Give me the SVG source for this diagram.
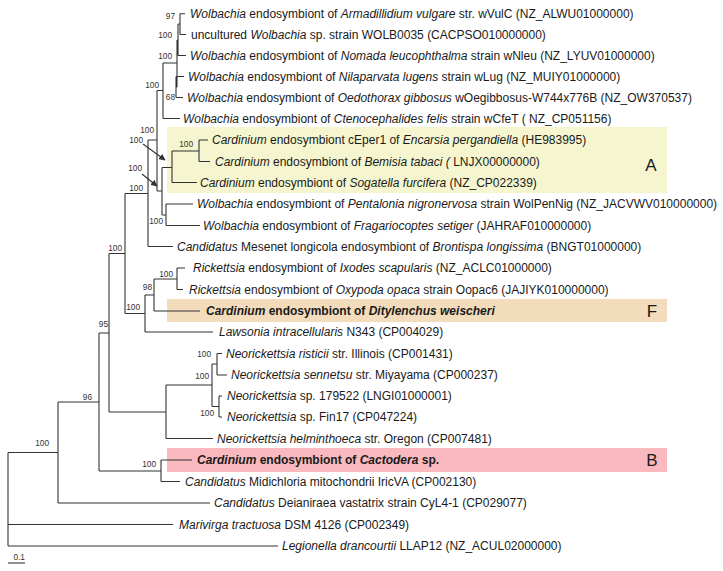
<svg xmlns="http://www.w3.org/2000/svg" width="723" height="571" viewBox="0 0 723 571">
<defs>
<style>
.t{font-family:"Liberation Sans",Arial,sans-serif;font-size:12px;fill:#1a1a1a}
.i{font-style:italic}
.b{font-weight:bold}
.bs{font-family:"Liberation Sans",Arial,sans-serif;font-size:8.3px;fill:#333;text-anchor:end}
.lt{font-family:"Liberation Sans",Arial,sans-serif;font-size:17px;fill:#1a1a1a;text-anchor:middle}
.br{fill:none;stroke:#333;stroke-width:1.1}
</style>
<marker id="ah" viewBox="0 0 10 10" refX="9" refY="5" markerWidth="6" markerHeight="6" orient="auto">
<path d="M0,0 L10,5 L0,10 z" fill="#333"/>
</marker>
</defs>
<rect width="723" height="571" fill="#fff"/>
<g id="clades">
<rect id="cladeA" x="167" y="127" width="500" height="66" fill="#f5f6cf"/>
<rect id="cladeF" x="167" y="299" width="500" height="23" fill="#f2dcbb"/>
<rect id="cladeB" x="167" y="448" width="500" height="24" fill="#f9b9be"/>
<text class="lt" x="651" y="171">A</text>
<text class="lt" x="652" y="317">F</text>
<text class="lt" x="652" y="466">B</text>
</g>
<g id="connectors">
<path class="br" d="M180,13.7V34.5 M180,13.7H185 M180,34.5H186 M178,24V55.5 M178,24H180 M178,55.5H186 M176,76.5V97.5 M176,76.5H184 M176,97.5H183 M177,40V87 M177,40H178 M176,87H177 M163,63V118.5 M163,63H177 M163,118.5H180 M157,90.5V191 M157,90.5H163 M162,167.5V215 M157,191H162 M172,151V182.5 M162,167.5H172 M172,182.5H197 M199,140V161.5 M172,151H199 M199,140H208 M199,161.5H210 M166,204V225.5 M162,215H166 M166,204H193 M166,225.5H200 M148,140V246.5 M148,140H157 M148,246.5H173 M125,193.5V313.5 M125,193.5H148 M177,268V289.5 M177,268H185 M177,289.5H183 M154,279V311 M154,279H177 M154,311H200 M145,295V332 M145,295H154 M145,332H213 M125,313.5H145 M109,253.5V412 M109,253.5H125 M217,353.5V375 M217,353.5H222 M217,375H227 M219,396V417 M219,396H222 M219,417H222 M212,364V406.5 M212,364H217 M212,406.5H219 M166,385V438.5 M166,385H212 M166,438.5H213 M109,412H166 M99,333V471 M99,333H109 M161,460V481.5 M161,460H192 M161,481.5H180 M99,471H161 M58,402V503 M58,402H99 M58,503H210 M8,452.5V546 M8,452.5H58 M8,524.5H173 M8,546H278"/>
<path class="br" d="M143,144L165,160" marker-end="url(#ah)"/>
<path class="br" d="M142,174L157,186" marker-end="url(#ah)"/>
<path class="br" d="M8,563H25"/>
</g>
<g id="support">
<text class="bs" x="175" y="19">97</text>
<text class="bs" x="172" y="38">100</text>
<text class="bs" x="172" y="59">100</text>
<text class="bs" x="175" y="100">68</text>
<text class="bs" x="159" y="88">100</text>
<text class="bs" x="154" y="133">100</text>
<text class="bs" x="143" y="143">100</text>
<text class="bs" x="193" y="147">100</text>
<text class="bs" x="142" y="171">100</text>
<text class="bs" x="143" y="191">100</text>
<text class="bs" x="163" y="224">100</text>
<text class="bs" x="122" y="251">100</text>
<text class="bs" x="173" y="277">100</text>
<text class="bs" x="152" y="290">98</text>
<text class="bs" x="140" y="310">100</text>
<text class="bs" x="108" y="327">95</text>
<text class="bs" x="211" y="357">100</text>
<text class="bs" x="209" y="379">100</text>
<text class="bs" x="214" y="416">100</text>
<text class="bs" x="92" y="400">96</text>
<text class="bs" x="49" y="446">100</text>
<text class="bs" x="156" y="467">100</text>
<text class="bs" x="25" y="560">0.1</text>
</g>
<g id="leaf1"><text class="t" x="190" y="18"><tspan class="i">Wolbachia</tspan> endosymbiont of <tspan class="i">Armadillidium vulgare</tspan> str. wVulC (NZ_ALWU01000000)</text></g>
<g id="leaf2"><text class="t" x="191" y="39">uncultured <tspan class="i">Wolbachia</tspan> sp. strain WOLB0035 (CACPSO010000000)</text></g>
<g id="leaf3"><text class="t" x="190" y="60"><tspan class="i">Wolbachia</tspan> endosymbiont of <tspan class="i">Nomada leucophthalma</tspan> strain wNleu (NZ_LYUV01000000)</text></g>
<g id="leaf4"><text class="t" x="188" y="81"><tspan class="i">Wolbachia</tspan> endosymbiont of <tspan class="i">Nilaparvata lugens</tspan> strain wLug (NZ_MUIY01000000)</text></g>
<g id="leaf5"><text class="t" x="187" y="102"><tspan class="i">Wolbachia</tspan> endosymbiont of <tspan class="i">Oedothorax gibbosus</tspan> wOegibbosus-W744x776B (NZ_OW370537)</text></g>
<g id="leaf6"><text class="t" x="183" y="123"><tspan class="i">Wolbachia</tspan> endosymbiont of <tspan class="i">Ctenocephalides felis</tspan> strain wCfeT ( NZ_CP051156)</text></g>
<g id="leaf7"><text class="t" x="212" y="144.3"><tspan class="i">Cardinium</tspan> endosymbiont cEper1 of <tspan class="i">Encarsia pergandiella</tspan> (HE983995)</text></g>
<g id="leaf8"><text class="t" x="215" y="165.8"><tspan class="i">Cardinium</tspan> endosymbiont of <tspan class="i">Bemisia tabaci (</tspan> LNJX00000000)</text></g>
<g id="leaf9"><text class="t" x="200" y="186.8"><tspan class="i">Cardinium</tspan> endosymbiont of <tspan class="i">Sogatella furcifera</tspan> (NZ_CP022339)</text></g>
<g id="leaf10"><text class="t" x="197" y="208.3"><tspan class="i">Wolbachia</tspan> endosymbiont of <tspan class="i">Pentalonia nigronervosa</tspan> strain WolPenNig (NZ_JACVWV010000000)</text></g>
<g id="leaf11"><text class="t" x="203" y="229.8"><tspan class="i">Wolbachia</tspan> endosymbiont of <tspan class="i">Fragariocoptes setiger</tspan> (JAHRAF010000000)</text></g>
<g id="leaf12"><text class="t" x="177" y="250.8"><tspan class="i">Candidatus</tspan> Mesenet longicola endosymbiont of <tspan class="i">Brontispa longissima</tspan> (BNGT01000000)</text></g>
<g id="leaf13"><text class="t" x="193" y="272.3"><tspan class="i">Rickettsia</tspan> endosymbiont of <tspan class="i">Ixodes scapularis</tspan> (NZ_ACLC01000000)</text></g>
<g id="leaf14"><text class="t" x="189" y="293.8"><tspan class="i">Rickettsia</tspan> endosymbiont of <tspan class="i">Oxypoda opaca</tspan> strain Oopac6 (JAJIYK010000000)</text></g>
<g id="leaf15"><text class="t b" x="206" y="315.3"><tspan class="i">Cardinium</tspan> endosymbiont of <tspan class="i">Ditylenchus weischeri</tspan></text></g>
<g id="leaf16"><text class="t" x="219" y="336.3"><tspan class="i">Lawsonia intracellularis</tspan> N343 (CP004029)</text></g>
<g id="leaf17"><text class="t" x="226" y="357.8"><tspan class="i">Neorickettsia risticii</tspan> str. Illinois (CP001431)</text></g>
<g id="leaf18"><text class="t" x="231" y="379.3"><tspan class="i">Neorickettsia sennetsu</tspan> str. Miyayama (CP000237)</text></g>
<g id="leaf19"><text class="t" x="227" y="400.3"><tspan class="i">Neorickettsia</tspan> sp. 179522 (LNGI01000001)</text></g>
<g id="leaf20"><text class="t" x="227" y="421.3"><tspan class="i">Neorickettsia</tspan> sp. Fin17 (CP047224)</text></g>
<g id="leaf21"><text class="t" x="217" y="442.8"><tspan class="i">Neorickettsia helminthoeca</tspan> str. Oregon (CP007481)</text></g>
<g id="leaf22"><text class="t b" x="197" y="464.3"><tspan class="i">Cardinium</tspan> endosymbiont of <tspan class="i">Cactodera</tspan> sp.</text></g>
<g id="leaf23"><text class="t" x="185" y="485.8"><tspan class="i">Candidatus</tspan> Midichloria mitochondrii IricVA (CP002130)</text></g>
<g id="leaf24"><text class="t" x="214" y="507.3"><tspan class="i">Candidatus</tspan> Deianiraea vastatrix strain CyL4-1 (CP029077)</text></g>
<g id="leaf25"><text class="t" x="179" y="528.8"><tspan class="i">Marivirga tractuosa</tspan> DSM 4126 (CP002349)</text></g>
<g id="leaf26"><text class="t" x="282" y="550.3"><tspan class="i">Legionella drancourtii</tspan> LLAP12 (NZ_ACUL02000000)</text></g>
</svg>
